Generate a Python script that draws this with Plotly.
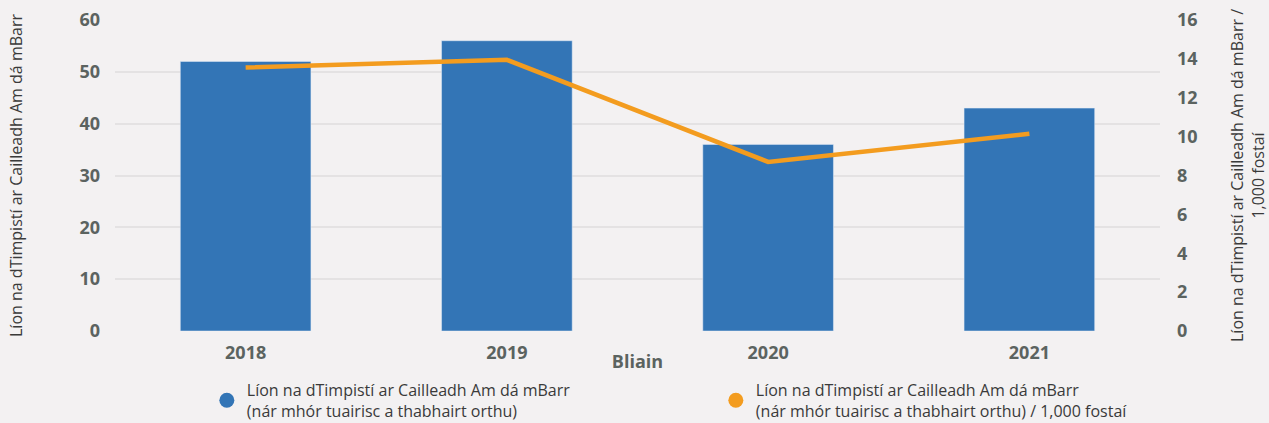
import plotly.graph_objects as go

years = ["2018", "2019", "2020", "2021"]
incidents = [52, 56, 36, 43]
rate_per_1000 = [13.55, 13.95, 8.7, 10.15]

bar_name = "Líon na dTimpistí ar Cailleadh Am dá mBarr<br>(nár mhór tuairisc a thabhairt orthu)"
line_name = "Líon na dTimpistí ar Cailleadh Am dá mBarr<br>(nár mhór tuairisc a thabhairt orthu) / 1,000 fostaí"
left_title = "Líon na dTimpistí ar Cailleadh Am dá mBarr"
right_title = "Líon na dTimpistí ar Cailleadh Am dá mBarr /<br>1,000 fostaí"
x_title = "Bliain"

bar_color = "#3375b6"
line_color = "#f39c1f"
bg = "#f3f1f2"
tick_color = "#5b6360"
text_color = "#3a3a3a"

fig = go.Figure()
fig.add_trace(go.Bar(x=years, y=incidents, name=bar_name, marker_color=bar_color,
                     width=0.5, yaxis="y", showlegend=False))
fig.add_trace(go.Scatter(x=years, y=rate_per_1000, name=line_name, mode="lines",
                         line=dict(color=line_color, width=4.5), yaxis="y2",
                         showlegend=False))
# legend entries with round markers
fig.add_trace(go.Scatter(x=[None], y=[None], mode="markers", name=bar_name,
                         marker=dict(color=bar_color, size=15, symbol="circle")))
fig.add_trace(go.Scatter(x=[None], y=[None], mode="markers", name=line_name,
                         marker=dict(color=line_color, size=15, symbol="circle")))

fig.update_layout(
    width=1269, height=423,
    paper_bgcolor=bg, plot_bgcolor=bg,
    font=dict(family="Open Sans", size=16, color=text_color),
    margin=dict(l=115, r=109, t=20, b=92, autoexpand=False),
    showlegend=True,
    legend=dict(orientation="h", xref="container", yref="container",
                x=0.163, y=(423 - 373) / 423, xanchor="left", yanchor="top",
                entrywidth=464, font=dict(size=16, color=text_color),
                itemwidth=30, bgcolor="rgba(0,0,0,0)", tracegroupgap=0),
    bargap=0.5,
    xaxis=dict(
        tickfont=dict(size=18, color=tick_color, weight="bold"),
        ticklabelstandoff=9,
        title=dict(text=x_title, font=dict(size=18, color=tick_color, weight="bold"), standoff=7),
        showgrid=False, showline=False, ticks="",
    ),
    yaxis=dict(
        range=[0, 60], dtick=10,
        tickfont=dict(size=18, color=tick_color, weight="bold"),
        gridcolor="#e4e2e3", gridwidth=2, zeroline=False,
        ticklabelstandoff=14,
        title=dict(text=left_title, font=dict(size=16, color=text_color), standoff=52),
    ),
    yaxis2=dict(
        range=[0, 16], dtick=2, overlaying="y", side="right",
        tickfont=dict(size=18, color=tick_color, weight="bold"),
        showgrid=False, zeroline=False,
        ticklabelstandoff=16,
        title=dict(text=right_title, font=dict(size=16, color=text_color), standoff=40),
    ),
)
fig.write_html("out.html", config={"displayModeBar": False},
               post_script="document.body.style.margin='0';")
